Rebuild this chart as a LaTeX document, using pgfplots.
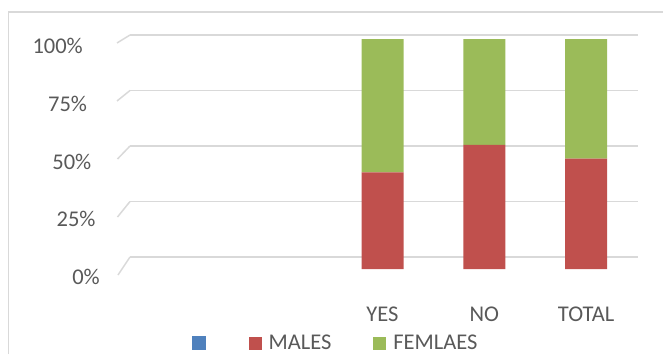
\documentclass[border=0pt]{standalone}
\usepackage{pgfplots}
\pgfplotsset{compat=1.18}
\usepackage{fontspec}
\setmainfont{Carlito}
\definecolor{cblue}{HTML}{4F81BD}
\definecolor{cred}{HTML}{C0504D}
\definecolor{cgreen}{HTML}{9BBB59}
\definecolor{cgrid}{HTML}{D9D9D9}
\definecolor{ctext}{HTML}{595959}
\newcommand{\ff}{\fontsize{22.5}{27}\selectfont}
\pgfplotsset{sqleg/.style={legend image code/.code={\fill[##1] (0pt,-6.5pt) rectangle (13pt,6.5pt);}}}
\begin{document}
\begin{tikzpicture}[x=1pt,y=1pt]
\useasboundingbox (0,0) rectangle (663,354);
\draw[cgrid, line width=1.2pt] (8.5,0) -- (8.5,342) -- (663,342);
% gridlines
\begin{axis}[at={(130pt,97pt)}, anchor=south west, scale only axis,
  width=508pt, height=222pt, xmin=0, xmax=1, ymin=0, ymax=100,
  axis line style={draw=none}, xtick=\empty, ytick={0,25,50,75,100},
  yticklabels=\empty, major tick length=0pt, ymajorgrids,
  grid style={cgrid, line width=1.5pt}, clip=false]
\draw[cgrid, line width=1.5pt] (axis cs:0,100) -- ++(-13pt,-8pt);
\draw[cgrid, line width=1.5pt] (axis cs:0,75) -- ++(-13pt,-10.5pt);
\draw[cgrid, line width=1.5pt] (axis cs:0,50) -- ++(-12.5pt,-13pt);
\draw[cgrid, line width=1.5pt] (axis cs:0,25) -- ++(-12.5pt,-15.5pt);
\draw[cgrid, line width=1.5pt] (axis cs:0,0) -- ++(-12pt,-18pt);
\end{axis}
% y tick labels
\begin{axis}[at={(100pt,77pt)}, anchor=south west, scale only axis,
  width=500pt, height=231pt, xmin=0, xmax=1, ymin=0, ymax=100,
  axis line style={draw=none}, xtick=\empty, ytick={0,25,50,75,100},
  yticklabels={0\%, 25\%\hspace*{4.25pt}, 50\%\hspace*{8.5pt}, 75\%\hspace*{12.75pt}, 100\%\hspace*{17pt}},
  yticklabel style={anchor=east, inner sep=0pt, font=\ff, text=ctext},
  major tick length=0pt]
\end{axis}
% bars
\begin{axis}[at={(128pt,85pt)}, anchor=south west, scale only axis,
  width=509pt, height=230pt, xmin=0.5, xmax=5.5, ymin=0, ymax=100,
  ybar stacked, bar width=42pt,
  axis line style={draw=none}, ytick=\empty,
  xtick={3,4,5}, xticklabels={YES,NO,TOTAL}, major tick length=0pt,
  xticklabel style={anchor=north, inner sep=0pt, font=\ff, text=ctext, yshift=-38pt},
  legend columns=3,
  legend style={at={(axis description cs:0.1159,-0.322)}, anchor=west,
    draw=none, fill=none, inner sep=0pt, font=\ff, text=ctext,
    nodes={inner sep=0pt},
    /tikz/every odd column/.append style={column sep=7pt},
    /tikz/every even column/.append style={column sep=42pt}}]
\addlegendimage{legend image code/.code={\path (0pt,0pt) (11pt,0pt); \fill[cblue, overlay] (5pt,-6.5pt) rectangle (18pt,6.5pt);}}
\addlegendentry{\mbox{}}
\addplot[fill=cred, draw=none, sqleg] coordinates {(3,42) (4,54) (5,48)};
\addlegendentry{MALES}
\addplot[fill=cgreen, draw=none, sqleg] coordinates {(3,58) (4,46) (5,52)};
\addlegendentry{FEMLAES}
\end{axis}
\end{tikzpicture}
\end{document}
